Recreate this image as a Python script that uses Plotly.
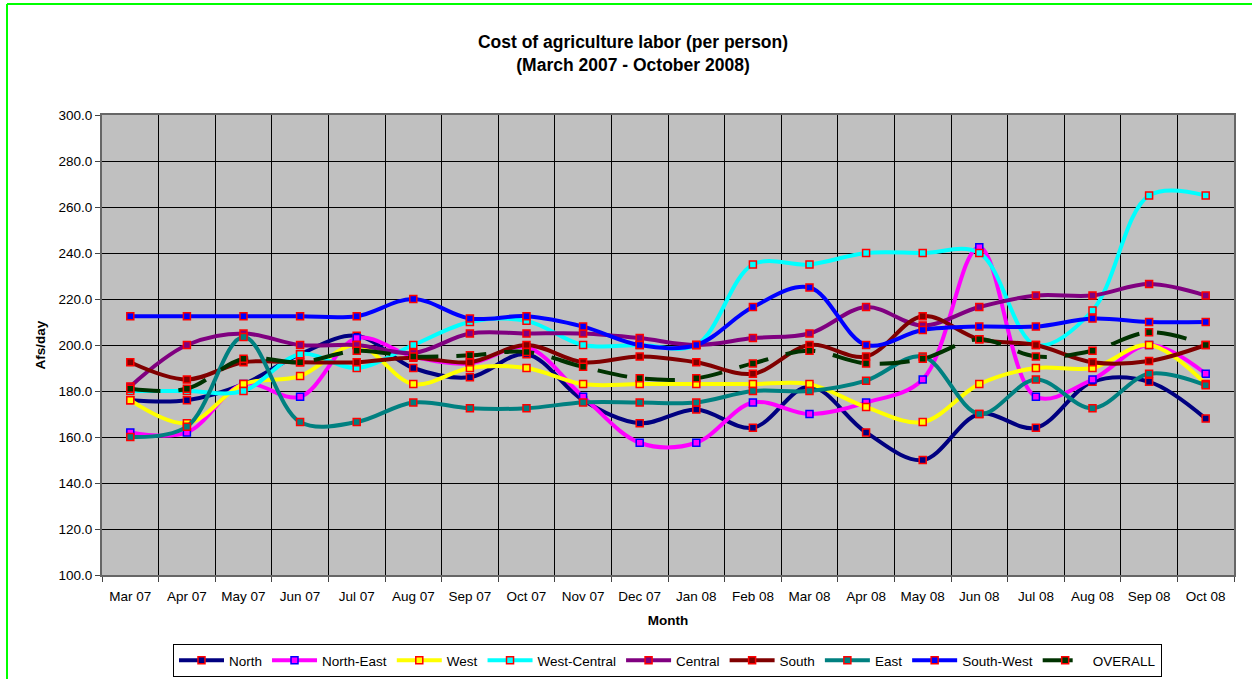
import plotly.graph_objects as go

months = ["Mar 07", "Apr 07", "May 07", "Jun 07", "Jul 07", "Aug 07", "Sep 07", "Oct 07",
          "Nov 07", "Dec 07", "Jan 08", "Feb 08", "Mar 08", "Apr 08", "May 08", "Jun 08",
          "Jul 08", "Aug 08", "Sep 08", "Oct 08"]

north = [176, 176, 183, 196, 204, 190, 186, 196, 176, 166, 172, 164, 182, 162, 150, 170, 164, 184, 184, 168]
north_east = [162, 162, 183, 177.5, 203, 195, 192, 199, 177.5, 157.5, 157.5, 175, 170, 175, 185, 242.5, 177.5, 185, 200, 187.5]
west = [176, 166, 183, 186.5, 200, 183, 190, 190, 183, 183, 183, 183, 183, 173, 166.5, 183, 190, 190, 200, 183]
west_central = [180, 180, 180, 196, 190, 200, 210, 210.5, 200, 200, 200, 235, 235, 240, 240, 240, 200, 215, 265, 265]
central = [182, 200, 205, 200, 200, 196.5, 205, 205, 205, 203, 200, 203, 205, 216.5, 208.5, 216.5, 221.5, 221.5, 226.5, 221.5]
south = [192.5, 185, 192.5, 192.5, 192.5, 194.5, 192.5, 200, 192.5, 195, 192.5, 187.5, 200, 195, 212.5, 202.5, 200, 192.5, 193, 200]
east = [160, 164.5, 203.5, 166.5, 166.5, 175, 172.5, 172.5, 175, 175, 175, 180, 180, 184.5, 195, 170, 185, 172.5, 187.5, 182.5]
south_west = [212.5, 212.5, 212.5, 212.5, 212.5, 220, 211.5, 212.5, 208, 200, 200, 216.5, 225, 200, 206.5, 208, 208, 211.5, 210, 210]
overall = [181, 181, 194, 192.5, 197.5, 195, 195.5, 197, 190.5, 185.5, 185.5, 192, 197.5, 192, 194, 202.5, 195, 197.5, 205.5, 200]

series = [
    ("North", north, "#000080", "#FF0000", "solid"),
    ("North-East", north_east, "#FF00FF", "#0000FF", "solid"),
    ("West", west, "#FFFF00", "#FF0000", "solid"),
    ("West-Central", west_central, "#00FFFF", "#FF0000", "solid"),
    ("Central", central, "#800080", "#FF0000", "solid"),
    ("South", south, "#800000", "#FF0000", "solid"),
    ("East", east, "#008080", "#FF0000", "solid"),
    ("South-West", south_west, "#0000FF", "#FF0000", "solid"),
    ("OVERALL", overall, "#003300", "#FF0000", "30px,18px"),
]

FONT = "Liberation Sans, Arial, sans-serif"

fig = go.Figure()
for name, vals, col, mcol, dash in series:
    fig.add_trace(go.Scatter(
        x=months, y=vals, name=name, mode="lines+markers",
        line=dict(color=col, width=4, shape="spline", smoothing=1.0, dash=dash),
        marker=dict(symbol="square", size=7, color=col, line=dict(color=mcol, width=1.5)),
    ))

L, R, T, B = 102, 1234, 115, 575
W, H = 1252, 679

def px(x):
    return (x - L) / (R - L)

def py(y):
    return (B - y) / (B - T)

fig.update_layout(
    width=W, height=H,
    margin=dict(l=L, r=W - R, t=T, b=H - B, autoexpand=False),
    paper_bgcolor="white",
    plot_bgcolor="#C0C0C0",
    font=dict(family=FONT, size=13.5, color="black"),
    title=dict(
        text="Cost of agriculture labor (per person)<br>(March 2007 - October 2008)",
        x=633 / W, xref="container", xanchor="center",
        y=1 - 48 / H, yref="container", yanchor="middle",
        font=dict(family=FONT, size=17.5, color="black", weight="bold"),
    ),
    showlegend=True,
    legend=dict(
        orientation="h", x=px(173), y=py(644), xanchor="left", yanchor="top",
        bordercolor="black", borderwidth=1, bgcolor="white",
        font=dict(family=FONT, size=13.5), tracegroupgap=0,
        itemwidth=45,
    ),
    xaxis=dict(
        type="category", range=[-0.5, 19.5], tickson="boundaries",
        showgrid=True, gridcolor="black", gridwidth=1,
        showline=True, linecolor="#666666", linewidth=2, mirror=True,
        ticks="outside", ticklen=5, tickcolor="#444444",
        ticklabelstandoff=8,
        tickfont=dict(family=FONT, size=13.5),
        title=dict(text="Month", standoff=12, font=dict(family=FONT, size=13.5, weight="bold")),
    ),
    yaxis=dict(
        range=[100, 300], dtick=20, tickformat=".1f",
        showgrid=True, gridcolor="black", gridwidth=1,
        showline=True, linecolor="#666666", linewidth=2, mirror=True,
        ticks="outside", ticklen=5, tickcolor="#444444",
        tickfont=dict(family=FONT, size=13.5),
        title=dict(text="Afs/day", standoff=10, font=dict(family=FONT, size=13.5, weight="bold")),
        zeroline=False,
    ),
    shapes=[
        dict(type="line", xref="paper", yref="paper", x0=px(7), x1=px(7), y0=py(4), y1=py(700),
             line=dict(color="#00FF00", width=2)),
        dict(type="line", xref="paper", yref="paper", x0=px(7), x1=px(1300), y0=py(4), y1=py(4),
             line=dict(color="#00FF00", width=2)),
    ],
)

fig.write_html("out.html", config={"displayModeBar": False},
               post_script="document.body.style.margin='0';")
